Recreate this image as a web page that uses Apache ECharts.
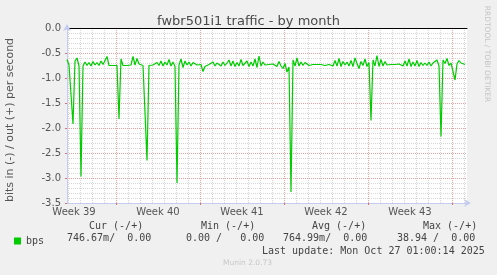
<!DOCTYPE html>
<html>
<head>
<meta charset="utf-8">
<script src="https://cdn.jsdelivr.net/npm/echarts@6/dist/echarts.min.js"></script>
<style>
html,body{margin:0;padding:0;background:#f0f0f0;}
#chart{width:497px;height:275px;}
</style>
</head>
<body>
<div id="chart"></div>
<script>
// ---- data (hours relative to Mon Sep 29 2025 00:00, one sample every 4h) ----
const startHour = -98;
const stepHours = 4;
const bpsValues = [
  -0.63,-0.74,-0.70,-1.92,-0.66,-0.60,-0.76,-2.97,-0.76,-0.68,-0.75,-0.69,-0.76,-0.67,-0.74,-0.69,-0.75,-0.66,-0.73,-0.70,
  -0.57,-0.75,-0.75,-0.75,-0.75,-0.75,-1.82,-0.62,-0.75,-0.75,-0.75,-0.75,-0.74,-0.57,-0.74,-0.61,-0.72,-0.75,-0.75,-0.75,
  -2.65,-0.75,-0.75,-0.74,-0.75,-0.69,-0.75,-0.66,-0.76,-0.68,-0.74,-0.63,-0.76,-0.68,-0.77,-3.10,-0.74,-0.62,-0.79,-0.66,
  -0.74,-0.68,-0.76,-0.69,-0.73,-0.74,-0.72,-0.73,-0.87,-0.77,-0.73,-0.73,-0.75,-0.68,-0.76,-0.70,-0.66,-0.76,-0.68,-0.75,
  -0.70,-0.64,-0.76,-0.66,-0.77,-0.69,-0.76,-0.63,-0.75,-0.77,-0.66,-0.77,-0.68,-0.76,-0.62,-0.79,-0.56,-0.76,-0.68,-0.74,
  -0.72,-0.73,-0.73,-0.72,-0.69,-0.77,-0.67,-0.76,-0.81,-0.71,-0.88,-0.78,-3.28,-0.64,-0.76,-0.60,-0.76,-0.68,-0.75,-0.69,
  -0.73,-0.75,-0.72,-0.73,-0.72,-0.73,-0.72,-0.73,-0.69,-0.75,-0.72,-0.73,-0.70,-0.76,-0.65,-0.76,-0.61,-0.77,-0.67,-0.74,
  -0.68,-0.76,-0.65,-0.77,-0.60,-0.71,-0.81,-0.67,-0.75,-0.62,-0.77,-0.69,-1.85,-0.64,-0.76,-0.55,-0.77,-0.63,-0.76,-0.67,
  -0.74,-0.72,-0.73,-0.72,-0.73,-0.72,-0.72,-0.69,-0.76,-0.66,-0.76,-0.62,-0.77,-0.68,-0.76,-0.65,-0.77,-0.69,-0.75,-0.70,
  -0.75,-0.68,-0.76,-0.70,-0.73,-0.64,-0.76,-2.17,-0.64,-0.71,-0.61,-0.75,-0.70,-0.74,-1.04,-0.72,-0.65,-0.70,-0.73,-0.73
];
const weekLabels = ['Week 39','Week 40','Week 41','Week 42','Week 43'];
const weekStartHours = [0, 168, 336, 504, 672];
const weekMidHours = [-84, 84, 252, 420, 588];
const statHeaders = ['Cur (-/+)', 'Min (-/+)', 'Avg (-/+)', 'Max (-/+)'];
const statValues = ['746.67m/  0.00', '0.00 /   0.00', '764.99m/  0.00', '38.94 /  0.00'];
const lastUpdate = 'Last update: Mon Oct 27 01:00:14 2025';

const xMin = -98, xMax = 702;
const dayLines = [];
for (let h = -96; h < xMax; h += 24) { if (h % 168 !== 0) dayLines.push(h); }

const seriesData = bpsValues.map((v, i) => [startHour + i * stepHours, v]);

const MONO = "'DejaVu Sans Mono', monospace";
const SANS = "'DejaVu Sans', sans-serif";
const axisBlue = '#c4ccf2';
const majorRed = '#e6a3a3';
const minorGray = '#d6d6d6';

const headerX = [89, 201, 312, 423];
const valueX = [67, 186, 283, 397];
const graphics = [];
statHeaders.forEach((t, i) => graphics.push({type:'text', left:headerX[i], top:221, style:{text:t, font:'10px ' + MONO, fill:'#444'}}));
statValues.forEach((t, i) => graphics.push({type:'text', left:valueX[i], top:233, style:{text:t, font:'10px ' + MONO, fill:'#444'}}));
graphics.push({type:'text', left:262, top:246, style:{text:lastUpdate, font:'10px ' + MONO, fill:'#444'}});
graphics.push({type:'text', left:223, top:259, style:{text:'Munin 2.0.73', font:'7.5px ' + SANS, fill:'#c8c8c8'}});
graphics.push({type:'text', x:487, y:54, rotation:-Math.PI/2, style:{text:'RRDTOOL / TOBI OETIKER', font:'7.5px ' + SANS, fill:'#c4c4c4', align:'center', verticalAlign:'middle'}});

const chart = echarts.init(document.getElementById('chart'), null, {renderer:'canvas'});
chart.setOption({
  backgroundColor:'#f0f0f0',
  animation:false,
  title:{text:'fwbr501i1 traffic - by month', left:'center', top:10,
    textStyle:{fontFamily:SANS, fontSize:13, fontWeight:'normal', color:'#4a4a4a'}},
  legend:{show:true, left:9, top:231, icon:'rect', itemWidth:7, itemHeight:7, itemGap:4,
    textStyle:{fontFamily:MONO, fontSize:10, color:'#444'}, data:['bps']},
  grid:{left:67, top:28, width:400, height:175, show:true, backgroundColor:'#ffffff', borderWidth:0,
    containLabel:false, outerBoundsMode:'none'},
  xAxis:[
    { type:'value', min:xMin, max:xMax, position:'bottom',
      axisLine:{show:false, onZero:false}, axisLabel:{show:false},
      axisTick:{show:false, customValues:dayLines},
      splitLine:{show:true, lineStyle:{color:minorGray, type:[1,1], width:1}} },
    { type:'value', min:xMin, max:xMax, position:'bottom',
      axisLine:{show:true, onZero:false, lineStyle:{color:axisBlue, width:1}, symbol:['none','arrow'], symbolSize:[6,7], symbolOffset:[0,4]},
      axisTick:{show:true, customValues:weekStartHours, length:2, lineStyle:{color:'#e07070'}},
      axisLabel:{show:true, customValues:weekMidHours, margin:4, color:'#555', fontFamily:SANS, fontSize:10,
        formatter:(v)=>weekLabels[weekMidHours.indexOf(v)]},
      splitLine:{show:true, lineStyle:{color:majorRed, type:[1,1], width:1}} },
    { type:'value', min:xMin, max:xMax, position:'top',
      axisLine:{show:true, onZero:false, lineStyle:{color:'#000', width:1}},
      axisTick:{show:false}, axisLabel:{show:false}, splitLine:{show:false} }
  ],
  yAxis:{ type:'value', min:-3.5, max:0, interval:0.5,
    name:'bits in (-) / out (+) per second', nameLocation:'middle', nameGap:51,
    nameTextStyle:{fontFamily:SANS, fontSize:11, color:'#555', padding:[0,9,0,0]},
    axisLine:{show:true, onZero:false, lineStyle:{color:axisBlue, width:1}, symbol:['none','arrow'], symbolSize:[6,7], symbolOffset:[0,4]},
    axisTick:{show:true, length:2, lineStyle:{color:'#e07070'}},
    axisLabel:{margin:6, color:'#555', fontFamily:SANS, fontSize:10, formatter:(v)=>v.toFixed(1)},
    splitLine:{show:true, lineStyle:{color:majorRed, type:[1,1], width:1}},
    minorTick:{show:false, splitNumber:5},
    minorSplitLine:{show:true, lineStyle:{color:minorGray, type:[1,1], width:1}} },
  graphic:graphics,
  series:[{
    name:'bps', type:'line', xAxisIndex:1, data:seriesData,
    showSymbol:false, symbol:'none', lineStyle:{color:'#00cc00', width:1.2},
    itemStyle:{color:'#00cc00'}, z:5
  }]
});
</script>
</body>
</html>
